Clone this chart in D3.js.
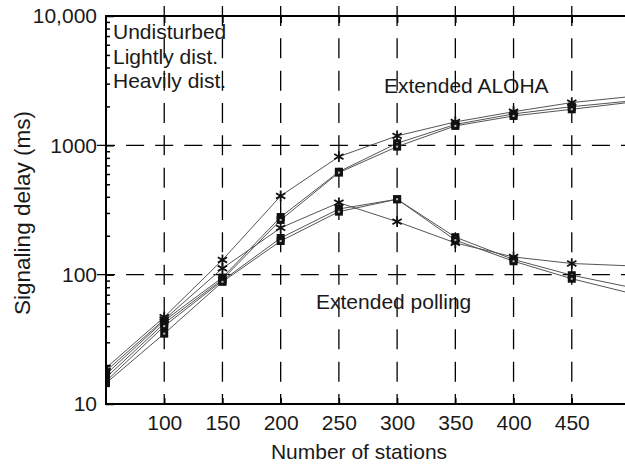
<!DOCTYPE html>
<html>
<head>
<meta charset="utf-8">
<script src="https://cdn.jsdelivr.net/npm/d3@7/dist/d3.min.js"></script>
<style>
  html, body { margin: 0; padding: 0; background: #fff; }
  svg { display: block; font-family: "Liberation Sans", Arial, Helvetica, sans-serif; }
</style>
</head>
<body>
<svg id="chart" width="625" height="466"></svg>
<script>
// Number of stations sampled on every curve
const stations = [50, 100, 150, 200, 250, 300, 350, 400, 450, 500];

// Signaling delay (ms), Extended ALOHA
const alohaHeavy     = [19, 47, 130, 406, 818, 1183, 1517, 1820, 2140, 2380];
const alohaLight     = [17, 44, 95, 279, 625, 1038, 1450, 1750, 1990, 2200];
const alohaUndist    = [16, 42, 92, 265, 615, 977, 1413, 1687, 1900, 2150];

// Signaling delay (ms), Extended polling
const pollingHeavy   = [18, 45, 112, 230, 360, 257, 176, 137, 122, 117];
const pollingLight   = [15, 40, 90, 192, 322, 383, 195, 131, 99, 80];
const pollingUndist  = [14.5, 35, 88, 182, 307, 383, 185, 127, 93, 72];

const xTickValues = [100, 150, 200, 250, 300, 350, 400, 450];
const yTickValues = [10, 100, 1000, 10000];
const yTickLabels = ["10", "100", "1000", "10,000"];
const legendLines = ["Undisturbed", "Lightly dist.", "Heavily dist."];

const series = [
  { name: "ALOHA heavily dist.",   values: alohaHeavy,    marker: "asterisk" },
  { name: "ALOHA lightly dist.",   values: alohaLight,    marker: "square" },
  { name: "ALOHA undisturbed",     values: alohaUndist,   marker: "square" },
  { name: "Polling heavily dist.", values: pollingHeavy,  marker: "asterisk" },
  { name: "Polling lightly dist.", values: pollingLight,  marker: "square" },
  { name: "Polling undisturbed",   values: pollingUndist, marker: "square" }
];

const svg = d3.select("#chart");
const plotLeft = 106, plotTop = 16, plotBottom = 404, plotRight = 630;

const x = d3.scaleLinear().domain([50, 500]).range([plotLeft, plotRight]);
const y = d3.scaleLog().domain([10, 10000]).range([plotBottom, plotTop]);

const font = "Liberation Sans, Arial, Helvetica, sans-serif";
const ink = "#1a1a1a";
const labelSize = 21;

svg.append("defs").append("clipPath").attr("id", "plot-clip")
  .append("rect").attr("x", plotLeft).attr("y", plotTop - 4)
  .attr("width", 625 - plotLeft).attr("height", plotBottom - plotTop + 8);

// Dashed grid, dashes centred on every crossing
const grid = svg.append("g").attr("stroke", "#000").attr("stroke-width", 1.3).attr("fill", "none");
const hPeriod = (x(100) - x(50)) / 2;
const hDash = hPeriod * 0.62;
grid.selectAll("line.h").data([100, 1000]).join("line")
  .attr("x1", x(100) - hDash / 2 - hPeriod * 2).attr("x2", 625)
  .attr("y1", d => y(d)).attr("y2", d => y(d))
  .attr("stroke-dasharray", `${hDash},${hPeriod - hDash}`);
const vPeriod = (y(100) - y(1000)) / 4;
const vDash = vPeriod * 0.62;
grid.selectAll("line.v").data(xTickValues).join("line")
  .attr("x1", d => x(d)).attr("x2", d => x(d))
  .attr("y1", y(1000) - vDash / 2 - vPeriod * 4).attr("y2", plotBottom)
  .attr("stroke-dasharray", `${vDash},${vPeriod - vDash}`);

// Curves
const line = d3.line().x((d, i) => x(stations[i])).y(d => y(d));
const plot = svg.append("g").attr("clip-path", "url(#plot-clip)");
plot.selectAll("path.curve").data(series).join("path")
  .attr("class", "curve")
  .attr("d", d => line(d.values))
  .attr("fill", "none").attr("stroke", "#555").attr("stroke-width", 1);

// Markers
const asterisk = d3.symbol().type(d3.symbolAsterisk).size(80);
series.forEach(s => {
  const g = plot.append("g");
  s.values.forEach((v, i) => {
    const px = x(stations[i]), py = y(v);
    if (s.marker === "square") {
      g.append("rect").attr("x", px - 4).attr("y", py - 4)
        .attr("width", 8).attr("height", 8).attr("fill", "#111");
      g.append("rect").attr("x", px - 1).attr("y", py - 1)
        .attr("width", 2).attr("height", 2).attr("fill", "#bbb");
    } else {
      g.append("path").attr("d", asterisk()).attr("transform", `translate(${px},${py})`)
        .attr("fill", "none").attr("stroke", "#111").attr("stroke-width", 1.8);
    }
  });
});

// Frame (left, bottom, top)
const frame = svg.append("g").attr("stroke", "#000").attr("stroke-width", 2).attr("fill", "none");
frame.append("line").attr("x1", plotLeft).attr("x2", plotLeft).attr("y1", plotTop - 1).attr("y2", plotBottom + 1);
frame.append("line").attr("x1", plotLeft - 1).attr("x2", 625).attr("y1", plotBottom).attr("y2", plotBottom);
frame.append("line").attr("x1", plotLeft - 1).attr("x2", 625).attr("y1", plotTop).attr("y2", plotTop);

// Inward ticks: bottom and top x axes
const xb = svg.append("g").attr("transform", `translate(0,${plotBottom})`)
  .call(d3.axisBottom(x).tickValues(xTickValues).tickSize(-6).tickFormat(d3.format("d")));
xb.select(".domain").remove();
xb.selectAll(".tick line").attr("stroke", "#000").attr("stroke-width", 1.5);
xb.selectAll(".tick text").attr("font-family", font).attr("font-size", labelSize).attr("fill", ink)
  .attr("dy", null).attr("y", 26);

const xt = svg.append("g").attr("transform", `translate(0,${plotTop})`)
  .call(d3.axisTop(x).tickValues(xTickValues).tickSize(-7).tickFormat(""));
xt.select(".domain").remove();
xt.selectAll(".tick line").attr("stroke", "#000").attr("stroke-width", 1.5);

// Inward ticks: left y axis, major and minor
const minors = [];
[10, 100, 1000].forEach(dec => { for (let k = 2; k <= 9; k++) minors.push(dec * k); });
const ym = svg.append("g").attr("transform", `translate(${plotLeft},0)`)
  .call(d3.axisLeft(y).tickValues(minors).tickSize(-4).tickFormat(""));
ym.select(".domain").remove();
ym.selectAll(".tick line").attr("stroke", "#000").attr("stroke-width", 1.5);

const yM = svg.append("g").attr("transform", `translate(${plotLeft},0)`)
  .call(d3.axisLeft(y).tickValues(yTickValues).tickSize(-8)
    .tickFormat((d, i) => yTickLabels[i]));
yM.select(".domain").remove();
yM.selectAll(".tick line").attr("stroke", "#000").attr("stroke-width", 1.5);
yM.selectAll(".tick text").attr("font-family", font).attr("font-size", labelSize).attr("fill", ink)
  .attr("x", -9);

// Axis titles
svg.append("text").attr("x", 359).attr("y", 459).attr("text-anchor", "middle")
  .attr("font-family", font).attr("font-size", 21).attr("fill", ink)
  .text("Number of stations");
svg.append("text").attr("transform", "translate(30,213) rotate(-90)").attr("text-anchor", "middle")
  .attr("font-family", font).attr("font-size", 22.5).attr("fill", ink)
  .text("Signaling delay (ms)");

// Condition legend
svg.append("g").selectAll("text").data(legendLines).join("text")
  .attr("x", 113).attr("y", (d, i) => 39 + i * 24.5)
  .attr("font-family", font).attr("font-size", labelSize).attr("fill", ink)
  .text(d => d);

// Curve family labels
svg.append("text").attr("x", 384).attr("y", 93)
  .attr("font-family", font).attr("font-size", labelSize).attr("fill", ink).text("Extended ALOHA");
svg.append("text").attr("x", 316).attr("y", 309)
  .attr("font-family", font).attr("font-size", labelSize).attr("fill", ink).text("Extended polling");
</script>
</body>
</html>
